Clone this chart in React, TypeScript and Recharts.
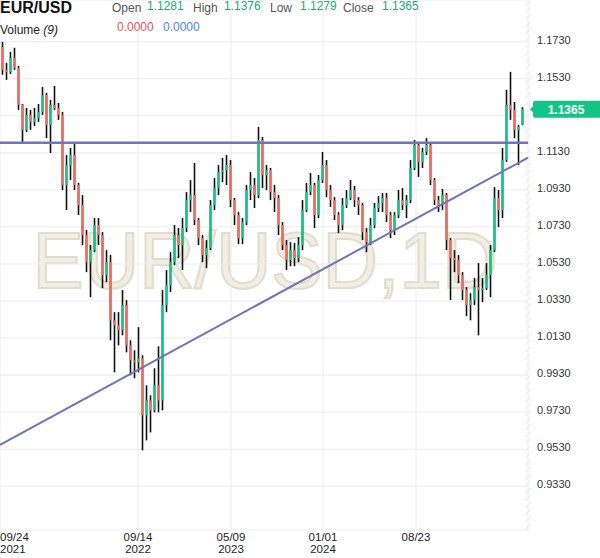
import React from 'react';
import { ComposedChart, Bar, XAxis, YAxis, CartesianGrid, ReferenceLine, ReferenceDot } from 'recharts';

// EUR/USD, one candle per ~10 days
const opens = [
  1.1702, 1.1578, 1.1567, 1.1643, 1.1589, 1.1389, 1.1254, 1.1335, 1.1297, 1.1318,
  1.1351, 1.1443, 1.1281, 1.1389, 1.1372, 1.1335, 1.0956, 1.1064, 1.1118, 1.0956,
  1.0848, 1.0686, 1.0540, 1.0605, 1.0740, 1.0686, 1.0470, 1.0540, 1.0226, 1.0199,
  1.0172, 1.0308, 1.0091, 1.0010, 0.9999, 1.0021, 0.9713, 0.9794, 0.9740, 0.9875,
  0.9794, 1.0308, 1.0416, 1.0540, 1.0686, 1.0632, 1.0724, 1.0875, 1.0902, 1.0767,
  1.0670, 1.0578, 1.0616, 1.0848, 1.0940, 1.1026, 1.1037, 1.1064, 1.0875, 1.0794,
  1.0670, 1.0756, 1.0929, 1.0956, 1.0902, 1.1199, 1.1010, 1.1037, 1.0918, 1.0886,
  1.0740, 1.0632, 1.0551, 1.0605, 1.0562, 1.0632, 1.0821, 1.0918, 1.0956, 1.0794,
  1.0983, 1.1064, 1.0929, 1.0875, 1.0794, 1.0740, 1.0848, 1.0886, 1.0929, 1.0875,
  1.0848, 1.0702, 1.0648, 1.0740, 1.0832, 1.0859, 1.0886, 1.0794, 1.0713, 1.0794,
  1.0875, 1.0848, 1.0875, 1.1048, 1.1172, 1.1081, 1.1135, 1.1172, 1.0983, 1.0875,
  1.0848, 1.0902, 1.0659, 1.0562, 1.0551, 1.0470, 1.0389, 1.0308, 1.0335, 1.0405,
  1.0389, 1.0399, 1.0470, 1.0605, 1.0886, 1.0821, 1.1091, 1.1389, 1.1362, 1.1254,
  1.1281,
];
const highs = [
  1.1729, 1.1616, 1.1675, 1.1697, 1.1599, 1.1394, 1.1372, 1.1362, 1.1372, 1.1394,
  1.1486, 1.1454, 1.1416, 1.1491, 1.1399, 1.1351, 1.1118, 1.1156, 1.1183, 1.0967,
  1.0902, 1.0713, 1.0632, 1.0778, 1.0778, 1.0702, 1.0605, 1.0578, 1.0270, 1.0270,
  1.0389, 1.0335, 1.0118, 1.0064, 1.0189, 1.0037, 0.9875, 0.9821, 0.9967, 1.0086,
  1.0389, 1.0497, 1.0594, 1.0740, 1.0724, 1.0778, 1.0918, 1.0983, 1.1075, 1.0778,
  1.0686, 1.0659, 1.0875, 1.0994, 1.1064, 1.1102, 1.1118, 1.1091, 1.0886, 1.0810,
  1.0778, 1.0956, 1.1026, 1.0994, 1.1270, 1.1216, 1.1064, 1.1048, 1.0956, 1.0902,
  1.0756, 1.0659, 1.0648, 1.0643, 1.0675, 1.0875, 1.0967, 1.1021, 1.0967, 1.1010,
  1.1135, 1.1091, 1.0956, 1.0891, 1.0810, 1.0886, 1.0929, 1.0983, 1.0951, 1.0891,
  1.0859, 1.0724, 1.0778, 1.0859, 1.0897, 1.0913, 1.0913, 1.0810, 1.0810, 1.0929,
  1.0940, 1.0902, 1.1091, 1.1199, 1.1183, 1.1156, 1.1210, 1.1189, 1.0994, 1.0897,
  1.0935, 1.0913, 1.0670, 1.0605, 1.0578, 1.0486, 1.0405, 1.0372, 1.0454, 1.0535,
  1.0454, 1.0535, 1.0632, 1.0945, 1.0929, 1.1156, 1.1470, 1.1567, 1.1405, 1.1281,
  1.1376,
];
const lows = [
  1.1551, 1.1524, 1.1556, 1.1578, 1.1362, 1.1189, 1.1243, 1.1254, 1.1275, 1.1297,
  1.1335, 1.1210, 1.1129, 1.1362, 1.1308, 1.0929, 1.0821, 1.0983, 1.0929, 1.0794,
  1.0632, 1.0486, 1.0351, 1.0594, 1.0632, 1.0399, 1.0432, 1.0118, 0.9945, 1.0091,
  1.0145, 1.0053, 0.9929, 0.9913, 0.9945, 0.9524, 0.9578, 0.9621, 0.9729, 0.9729,
  0.9740, 1.0270, 1.0378, 1.0524, 1.0562, 1.0497, 1.0702, 1.0810, 1.0740, 1.0632,
  1.0540, 1.0508, 1.0605, 1.0821, 1.0902, 1.0972, 1.0956, 1.0837, 1.0740, 1.0637,
  1.0637, 1.0740, 1.0875, 1.0832, 1.0886, 1.0940, 1.0929, 1.0875, 1.0810, 1.0686,
  1.0605, 1.0497, 1.0518, 1.0518, 1.0540, 1.0605, 1.0810, 1.0902, 1.0724, 1.0778,
  1.0967, 1.0891, 1.0837, 1.0767, 1.0697, 1.0713, 1.0832, 1.0875, 1.0837, 1.0794,
  1.0659, 1.0594, 1.0632, 1.0724, 1.0810, 1.0810, 1.0756, 1.0670, 1.0686, 1.0778,
  1.0821, 1.0778, 1.0859, 1.1037, 1.1000, 1.1048, 1.1118, 1.0956, 1.0848, 1.0810,
  1.0821, 1.0605, 1.0335, 1.0486, 1.0426, 1.0335, 1.0248, 1.0226, 1.0308, 1.0145,
  1.0324, 1.0389, 1.0351, 1.0594, 1.0729, 1.0778, 1.1081, 1.1308, 1.1210, 1.1064,
  1.1279,
];
const closes = [
  1.1578, 1.1567, 1.1643, 1.1589, 1.1389, 1.1254, 1.1335, 1.1297, 1.1318, 1.1351,
  1.1443, 1.1281, 1.1389, 1.1372, 1.1335, 1.0956, 1.1064, 1.1118, 1.0956, 1.0848,
  1.0686, 1.0540, 1.0605, 1.0740, 1.0686, 1.0470, 1.0540, 1.0226, 1.0199, 1.0172,
  1.0308, 1.0091, 1.0010, 0.9999, 1.0021, 0.9713, 0.9794, 0.9740, 0.9875, 0.9794,
  1.0308, 1.0416, 1.0540, 1.0686, 1.0632, 1.0724, 1.0875, 1.0902, 1.0767, 1.0670,
  1.0578, 1.0616, 1.0848, 1.0940, 1.1026, 1.1037, 1.1064, 1.0875, 1.0794, 1.0670,
  1.0756, 1.0929, 1.0956, 1.0902, 1.1199, 1.1010, 1.1037, 1.0918, 1.0886, 1.0740,
  1.0632, 1.0551, 1.0605, 1.0562, 1.0632, 1.0821, 1.0918, 1.0956, 1.0794, 1.0983,
  1.1064, 1.0929, 1.0875, 1.0794, 1.0740, 1.0848, 1.0886, 1.0929, 1.0875, 1.0848,
  1.0702, 1.0648, 1.0740, 1.0832, 1.0859, 1.0886, 1.0794, 1.0713, 1.0794, 1.0875,
  1.0848, 1.0875, 1.1048, 1.1172, 1.1081, 1.1135, 1.1172, 1.0983, 1.0875, 1.0848,
  1.0902, 1.0659, 1.0562, 1.0551, 1.0470, 1.0389, 1.0308, 1.0335, 1.0405, 1.0389,
  1.0399, 1.0470, 1.0605, 1.0886, 1.0821, 1.1091, 1.1389, 1.1362, 1.1254, 1.1270,
  1.1365,
];

const tickSpots = [0, 34.5, 57.75, 80.75, 104];
const tickDates = ['09/24', '09/14', '05/09', '01/01', '08/23'];
const tickYears = ['2021', '2022', '2023', '2024', ''];
const priceTicks = [0.933, 0.953, 0.973, 0.993, 1.013, 1.033, 1.053, 1.073, 1.093, 1.113, 1.133, 1.153, 1.173];
// the 1.1330 label sits under the last-price badge in the reference
const hiddenPriceTicks = [1.133];

const lastPrice = 1.1365;
const resistance = 1.1185;
const trendFrom = 0.9553;
const trendTo = 1.1104;

const GREEN = '#12c485';
const RED = '#f4675b';
const LINE = '#7373b8';

const data = opens.map((o, i) => ({ t: i + 0.5, open: o, high: highs[i], low: lows[i], close: closes[i] }));

const Candle = (props: any) => {
  const { x, y, width, height, payload } = props;
  if (x == null || y == null) return null;
  const top = Math.min(y, y + height);
  const span = Math.abs(height);
  const { open, close, high, low } = payload;
  const k = span / (high - low || 1);
  const yo = top + (high - open) * k;
  const yc = top + (high - close) * k;
  const cx = x + width / 2;
  const up = close >= open;
  return (
    <g>
      <line x1={cx} x2={cx} y1={top} y2={top + span} stroke="#111" strokeWidth={1.6} />
      <rect x={cx - 1.2} y={Math.min(yo, yc)} width={2.4} height={Math.max(1, Math.abs(yo - yc))} fill={up ? GREEN : RED} />
    </g>
  );
};

const DateTick = (props: any) => {
  const { x, y, payload } = props;
  const i = tickSpots.indexOf(payload.value);
  if (i < 0) return null;
  const anchor = i === 0 ? 'start' : 'middle';
  return (
    <g fontFamily="'Liberation Sans Narrow', 'Liberation Sans', Arial" fontSize={11.5} fill="#222">
      <text x={x} y={y + 11}>
        <tspan x={x} textAnchor={anchor}>{tickDates[i]}</tspan>
        {tickYears[i] ? <tspan x={x} dy={12} textAnchor={anchor}>{tickYears[i]}</tspan> : null}
      </text>
    </g>
  );
};

const PriceTick = (props: any) => {
  const { x, y, payload } = props;
  if (hiddenPriceTicks.includes(payload.value)) return null;
  return (
    <text x={x} y={y - 2} dy="0.35em" textAnchor="start" fontFamily="'Liberation Sans', Arial" fontSize={11} fill="#333">
      {Number(payload.value).toFixed(4)}
    </text>
  );
};

const PriceBadge = (props: any) => {
  const { cx, cy } = props;
  if (cx == null || cy == null) return null;
  return (
    <g>
      <path d={`M ${cx + 2} ${cy} L ${cx + 6} ${cy - 4} L ${cx + 6} ${cy + 4} Z`} fill={GREEN} />
      <rect x={cx + 5} y={cy - 8.5} width={70} height={17} rx={2} fill={GREEN} />
      <text x={cx + 38} y={cy} dy="0.36em" textAnchor="middle" fontFamily="'Liberation Sans', Arial" fontWeight="bold" fontSize={12} fill="#fff">
        {lastPrice.toFixed(4)}
      </text>
    </g>
  );
};

const headLabel: React.CSSProperties = { position: 'absolute', fontSize: 12, color: '#555' };
const headNum: React.CSSProperties = { position: 'absolute', fontSize: 12, color: '#1fa676' };

export default function App() {
  return (
    <div style={{ position: 'absolute', left: 0, top: 0, width: 600, height: 558, background: '#fff', fontFamily: "'Liberation Sans', Arial, sans-serif", overflow: 'hidden' }}>
      {/* watermark + price-scale hatch, behind the chart */}
      <svg width={600} height={558} style={{ position: 'absolute', left: 0, top: 0 }}>
        <defs>
          <pattern id="hatch" width={5} height={5} patternUnits="userSpaceOnUse" patternTransform="rotate(45)">
            <line x1={0} y1={0} x2={0} y2={5} stroke="#e4e4e4" strokeWidth={1.5} />
          </pattern>
        </defs>
        <rect x={525} y={0} width={6} height={530} fill="url(#hatch)" />
        <text x={265} y={288} textAnchor="middle" fontFamily="'Liberation Sans', Arial" fontSize={80} textLength={465} lengthAdjust="spacingAndGlyphs" fill="#f1eee5" stroke="#e3dccb" strokeWidth={2}>
          EUR/USD,1D
        </text>
      </svg>
      <div style={{ position: 'absolute', left: 0, top: 0 }}>
        <ComposedChart width={600} height={558} data={data} margin={{ top: 0, right: 0, bottom: 0, left: 0 }}>
          <CartesianGrid stroke="#ececec" />
          <XAxis
            type="number"
            dataKey="t"
            domain={[0, 132]}
            ticks={tickSpots}
            interval={0}
            allowDataOverflow
            height={28}
            axisLine={false}
            tickLine={false}
            tickSize={0}
            tickMargin={0}
            tick={<DateTick />}
          />
          <YAxis
            orientation="right"
            type="number"
            domain={[0.9094, 1.1955]}
            ticks={priceTicks}
            interval={0}
            allowDataOverflow
            width={72}
            axisLine={false}
            tickLine={false}
            tickSize={0}
            tickMargin={9}
            tick={<PriceTick />}
          />
          <Bar dataKey={(d: any) => [d.low, d.high]} barSize={3} shape={<Candle />} isAnimationActive={false} />
          <ReferenceLine y={resistance} stroke={LINE} strokeWidth={2.5} />
          <ReferenceLine segment={[{ x: 0, y: trendFrom }, { x: 132, y: trendTo }]} stroke={LINE} strokeWidth={2} />
          <ReferenceDot x={132} y={lastPrice} r={0} shape={<PriceBadge />} ifOverflow="visible" />
        </ComposedChart>
      </div>
      {/* legend header */}
      <div style={{ position: 'absolute', left: 0, top: -1, fontSize: 16, fontWeight: 'bold', color: '#111' }}>EUR/USD</div>
      <div style={{ ...headLabel, left: 112, top: 1 }}>Open</div>
      <div style={{ ...headNum, left: 147, top: -1 }}>1.1281</div>
      <div style={{ ...headLabel, left: 193, top: 1 }}>High</div>
      <div style={{ ...headNum, left: 224, top: -1 }}>1.1376</div>
      <div style={{ ...headLabel, left: 270, top: 1 }}>Low</div>
      <div style={{ ...headNum, left: 300, top: -1 }}>1.1279</div>
      <div style={{ ...headLabel, left: 343, top: 1 }}>Close</div>
      <div style={{ ...headNum, left: 382, top: -1 }}>1.1365</div>
      <div style={{ position: 'absolute', left: 0, top: 23, fontSize: 12, color: '#222' }}>
        Volume <i>(9)</i>
      </div>
      <div style={{ position: 'absolute', left: 117, top: 20, fontSize: 12, color: '#e05555' }}>0.0000</div>
      <div style={{ position: 'absolute', left: 163, top: 20, fontSize: 12, color: '#4a86e0' }}>0.0000</div>
    </div>
  );
}
